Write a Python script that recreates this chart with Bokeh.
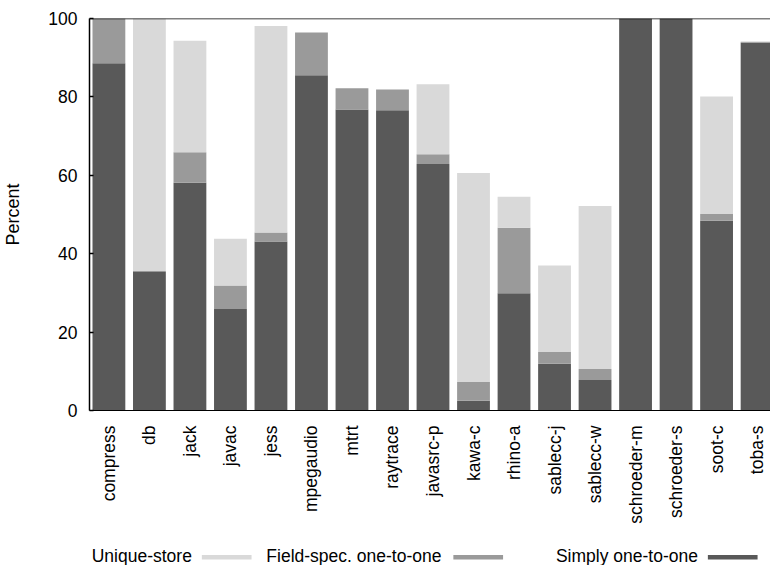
import math
from bokeh.plotting import figure
from bokeh.layouts import column
from bokeh.models import ColumnDataSource, FixedTicker, Span, Range1d
from bokeh.core.properties import value
from bokeh.embed import file_html
from bokeh.resources import INLINE

categories = ["compress", "db", "jack", "javac", "jess", "mpegaudio", "mtrt",
              "raytrace", "javasrc-p", "kawa-c", "rhino-a", "sablecc-j",
              "sablecc-w", "schroeder-m", "schroeder-s", "soot-c", "toba-s"]
simply = [88.6, 35.3, 58.1, 25.9, 43.1, 85.5, 76.8, 76.6, 62.9, 2.5, 29.9,
          11.9, 7.8, 100.0, 100.0, 48.4, 93.8]
field = [11.4, 0.3, 7.8, 6.0, 2.3, 10.9, 5.4, 5.3, 2.5, 4.8, 16.7,
         3.0, 2.8, 0.0, 0.0, 1.7, 0.3]
unique = [0.0, 64.4, 28.4, 11.9, 52.7, 0.0, 0.0, 0.0, 17.8, 53.3, 7.9,
          22.1, 41.6, 0.0, 0.0, 30.0, 0.0]
y_ticks = [0, 20, 40, 60, 80, 100]
legend_order = ["Unique-store", "Field-spec. one-to-one", "Simply one-to-one"]

DARK, MID, LIGHT = "#595959", "#9a9a9a", "#d9d9d9"
colors = {"Simply one-to-one": DARK, "Field-spec. one-to-one": MID, "Unique-store": LIGHT}
FONT = "Liberation Sans"
FS = "17.5px"
FS_BIG = "18px"

xs = list(range(len(categories)))
src = ColumnDataSource(dict(x=xs, simply=simply, field=field, unique=unique))

p = figure(width=770, height=526, output_backend="svg", toolbar_location=None,
           x_range=Range1d(-0.479, 16.331), y_range=Range1d(0, 100),
           min_border_left=85, min_border_right=0, min_border_top=18,
           min_border_bottom=114)
p.vbar_stack(["simply", "field", "unique"], x="x", width=0.81,
             color=[DARK, MID, LIGHT], line_color=None, source=src)

p.xgrid.visible = False
p.ygrid.visible = False
p.outline_line_color = None

# x axis
xa = p.xaxis[0]
xa.ticker = FixedTicker(ticks=xs)
xa.major_label_overrides = {i: c for i, c in enumerate(categories)}
xa.major_label_orientation = math.pi / 2
xa.major_tick_line_color = None
xa.minor_tick_line_color = None
xa.major_label_standoff = 9
xa.major_label_text_font = FONT
xa.major_label_text_font_size = FS
xa.major_label_text_color = "black"
xa.axis_line_color = "black"
xa.axis_line_width = 1

# y axis
ya = p.yaxis[0]
ya.ticker = FixedTicker(ticks=y_ticks)
ya.major_tick_in = 4
ya.major_tick_out = 0
ya.major_tick_line_color = "black"
ya.major_tick_line_width = 1.5
ya.minor_tick_line_color = None
ya.axis_line_color = "black"
ya.axis_line_width = 1.5
ya.major_label_standoff = 12
ya.major_label_text_font = FONT
ya.major_label_text_font_size = FS
ya.major_label_text_color = "black"
ya.axis_label = "Percent"
ya.axis_label_text_font = FONT
ya.axis_label_text_font_size = FS_BIG
ya.axis_label_text_font_style = "normal"
ya.axis_label_text_color = "black"
ya.axis_label_standoff = 22

p.add_layout(Span(location=100, dimension="width", line_color="black", line_width=1.5))

# legend strip (text followed by swatch); its frame is aligned with the main frame,
# so data x equals the figure's pixel x
lg = figure(width=770, height=39, output_backend="svg", toolbar_location=None,
            x_range=Range1d(85, 770), y_range=Range1d(0, 39),
            min_border_left=85, min_border_right=0, min_border_top=0,
            min_border_bottom=0)
lg.axis.visible = False
lg.grid.visible = False
lg.outline_line_color = None
text_right = [188, 439, 697]
swatch_left = [198, 451, 707]
lsrc = ColumnDataSource(dict(
    tx=text_right, ty=[9.5] * 3, label=legend_order,
    x0=swatch_left, x1=[s + 50 for s in swatch_left],
    y0=[6] * 3, y1=[10.5] * 3,
    c=[colors[n] for n in legend_order]))
lg.text(x="tx", y="ty", text="label", source=lsrc, text_align="right",
        text_baseline="middle", text_font=value(FONT), text_font_size=FS,
        text_color="black")
lg.quad(left="x0", right="x1", bottom="y0", top="y1", color="c",
        line_color=None, source=lsrc)

layout = column(p, lg, spacing=0)
open("out.html", "w").write(file_html(layout, INLINE))
